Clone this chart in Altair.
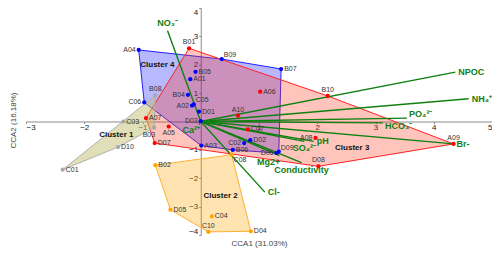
import altair as alt
import pandas as pd

# ---------------- data ----------------
sites = ["C01", "D10", "C03", "B03", "B08",
         "B02", "D05", "C04", "C10", "D04", "C08",
         "B01", "A06", "B10", "A09", "A08", "D08", "D07", "A07", "A05", "A10", "C07",
         "A04", "B09", "B07", "B05", "A01", "B04", "A02", "C05", "D01", "D03", "C06",
         "A03", "C02", "D02", "B06", "D06", "D09"]
cca1 = [-2.37, -1.42, -1.33, -0.80, -0.78,
        -0.78, -0.52, 0.19, 0.13, 0.86, 0.53,
        -0.20, 1.02, 2.18, 4.34, 1.97, 2.02, -0.79, -0.94, -0.55, 0.64, 0.81,
        -1.065, 0.36, 1.38, -0.09, -0.18, -0.22, -0.15, -0.12, -0.03, 0.00, -0.97,
        0.01, 0.745, 0.85, 0.55, 1.30, 1.34]
cca2 = [-1.70, -0.90, 0.00, -0.22, 0.92,
        -1.54, -3.11, -3.34, -3.89, -3.87, -1.17,
        2.58, 1.05, 0.90, -0.79, -0.58, -1.58, -0.76, 0.12, -0.18, 0.21, -0.28,
        2.52, 2.20, 1.85, 1.75, 1.49, 0.94, 0.56, 0.60, 0.35, 0.01, 0.67,
        -0.85, -0.76, -0.66, -1.00, -1.11, -1.06]
cluster = [1, 1, 1, 1, 1,
           2, 2, 2, 2, 2, 2,
           3, 3, 3, 3, 3, 3, 3, 3, 3, 3, 3,
           4, 4, 4, 4, 4, 4, 4, 4, 4, 4, 4,
           4, 4, 4, 4, 4, 4]
site_label_pos = ["r", "r", "r", "bl", "a",
                  "r", "r", "r", "a", "r", "br",
                  "a", "r", "a", "a", "l", "a", "r", "r", "b", "a", "r",
                  "l", "ar", "r", "r", "r", "l", "l", "ar", "r", "l", "l",
                  "r", "l", "r", "r", "l", "ar"]

env_names = ["NO₃⁻", "NPOC", "NH₄⁺", "PO₄³⁻", "HCO₃⁻", "Br-", "pH", "SO₄²⁻",
             "Mg2+", "Conductivity", "Cl-", "Ca²⁺"]
env_x = [-0.57, 4.37, 4.60, 3.54, 3.13, 4.34, 1.94, 1.78, 1.35, 1.73, 1.10, -0.03]
env_y = [3.20, 1.74, 0.80, 0.12, -0.05, -0.79, -0.70, -0.70, -1.20, -1.45, -2.49, -0.10]
env_label_pos = ["a", "r", "r", "ar", "br", "r", "r", "b", "bl", "b", "r", "bl"]

cluster_names = ["Cluster 1", "Cluster 2", "Cluster 3", "Cluster 4"]
cluster_label_x = [-1.45, 0.34, 2.60, -0.745]
cluster_label_y = [-0.47, -2.64, -0.93, 2.00]

x_ticks = [-3, -2, -1, 1, 2, 3, 4, 5]
y_ticks = [-4, -3, -2, -1, 1, 2, 3, 4]

# ---------------- styling ----------------
W, H = 466, 227
FONT = "Liberation Sans"
point_color = {1: "#a8a8a8", 2: "#ffa500", 3: "#ff0000", 4: "#0000ff"}
hull_style = {  # fill, fillOpacity, stroke
    4: ("#0000ff", 0.28, "#2020ff"),
    3: ("#ff3010", 0.28, "#ff2020"),
    1: ("#c4c070", 0.50, "#b0b0b0"),
    2: ("#ffa500", 0.30, "#ffb030"),
}

pts = pd.DataFrame({"site": sites, "x": cca1, "y": cca2, "cluster": cluster,
                    "pos": site_label_pos})
env = pd.DataFrame({"name": env_names, "x": env_x, "y": env_y,
                    "pos": env_label_pos})
env["ox"] = 0.0
env["oy"] = 0.0
clab = pd.DataFrame({"name": cluster_names, "x": cluster_label_x, "y": cluster_label_y})


def convex_hull(p):
    p = sorted(set(p))
    if len(p) <= 2:
        return p

    def cross(o, a, b):
        return (a[0] - o[0]) * (b[1] - o[1]) - (a[1] - o[1]) * (b[0] - o[0])

    lower = []
    for q in p:
        while len(lower) >= 2 and cross(lower[-2], lower[-1], q) <= 0:
            lower.pop()
        lower.append(q)
    upper = []
    for q in reversed(p):
        while len(upper) >= 2 and cross(upper[-2], upper[-1], q) <= 0:
            upper.pop()
        upper.append(q)
    return lower[:-1] + upper[:-1]


xs = alt.Scale(domain=[-3, 5], nice=False, zero=False)
ys = alt.Scale(domain=[-4, 4], nice=False, zero=False)
x_axis = alt.Axis(values=x_ticks, offset=-H / 2, grid=False, domainColor="#8a8a8a",
                  tickColor="#8a8a8a", tickSize=2, labelFontSize=8, labelPadding=0,
                  labelFlush=True, labelColor="#222", labelFont=FONT,
                  title="CCA1 (31.03%)", titleX=W / 2, titleY=122, titleBaseline="middle",
                  titleFontSize=8, titleFontWeight="normal", titleColor="#444",
                  titleFont=FONT)
y_axis = alt.Axis(values=y_ticks, offset=-W * 3 / 8, grid=False, domainColor="#8a8a8a",
                  tickColor="#8a8a8a", tickSize=2, labelFontSize=8, labelPadding=1,
                  labelFlush=True, labelColor="#222", labelFont=FONT,
                  title="CCA2 (16.18%)", titleX=-13 - W * 3 / 8, titleY=112,
                  titleAngle=270, titleAlign="center", titleBaseline="middle",
                  titleFontSize=8, titleFontWeight="normal", titleColor="#444",
                  titleFont=FONT)

X = alt.X("x:Q", scale=xs, axis=x_axis)
Y = alt.Y("y:Q", scale=ys, axis=y_axis)

layers = []

# hulls
for c in [4, 3, 1, 2]:
    sub = pts[pts.cluster == c]
    hull = convex_hull(list(zip(sub.x, sub.y)))
    hull = hull + [hull[0]]
    hdf = pd.DataFrame({"x": [h[0] for h in hull], "y": [h[1] for h in hull],
                        "o": list(range(len(hull)))})
    f, fo, s = hull_style[c]
    layers.append(alt.Chart(hdf).mark_line(fill=f, fillOpacity=fo, stroke=s,
                                           strokeWidth=1).encode(
        x=X, y=Y, order="o:Q"))

# environmental vectors
layers.append(alt.Chart(env).mark_rule(color="#108010", strokeWidth=1.4).encode(
    x=alt.X("ox:Q", scale=xs, axis=x_axis), y=alt.Y("oy:Q", scale=ys, axis=y_axis),
    x2="x:Q", y2="y:Q"))

env_off = {"r": ("left", 3, 0), "a": ("center", 0, -8), "b": ("center", 0, 7),
           "ar": ("left", 2, -4), "br": ("left", 2, 3), "bl": ("right", 1, 6)}
for k, (al, dx, dy) in env_off.items():
    sub = env[env.pos == k]
    if len(sub) == 0:
        continue
    layers.append(alt.Chart(sub).mark_text(align=al, baseline="middle", dx=dx, dy=dy,
                                           font=FONT, fontSize=9, fontWeight="bold",
                                           color="#108010").encode(
        x=X, y=Y, text="name:N"))

# sample points
for c in [1, 2, 3, 4]:
    sub = pts[pts.cluster == c]
    layers.append(alt.Chart(sub).mark_circle(size=18, opacity=1,
                                             color=point_color[c]).encode(x=X, y=Y))

pt_off = {"r": ("left", 3, 0), "l": ("right", -3, 0), "a": ("center", 0, -6),
          "b": ("center", 0, 6), "ar": ("left", 2, -4), "br": ("left", 2, 5),
          "bl": ("right", 1, 7)}
for k, (al, dx, dy) in pt_off.items():
    sub = pts[pts.pos == k]
    if len(sub) == 0:
        continue
    layers.append(alt.Chart(sub).mark_text(align=al, baseline="middle", dx=dx, dy=dy,
                                           font=FONT, fontSize=7, color="#333").encode(
        x=X, y=Y, text="site:N"))

# cluster labels
layers.append(alt.Chart(clab).mark_text(font=FONT, fontSize=8, fontWeight="bold",
                                        color="#111").encode(x=X, y=Y, text="name:N"))

chart = alt.layer(*layers).properties(
    width=W, height=H,
    autosize=alt.AutoSizeParams(type="none"),
    padding={"left": 18, "top": 0, "right": 0, "bottom": 13},
).configure_view(strokeWidth=0)

chart.save("out.html", embed_options={"renderer": "svg", "actions": False})
